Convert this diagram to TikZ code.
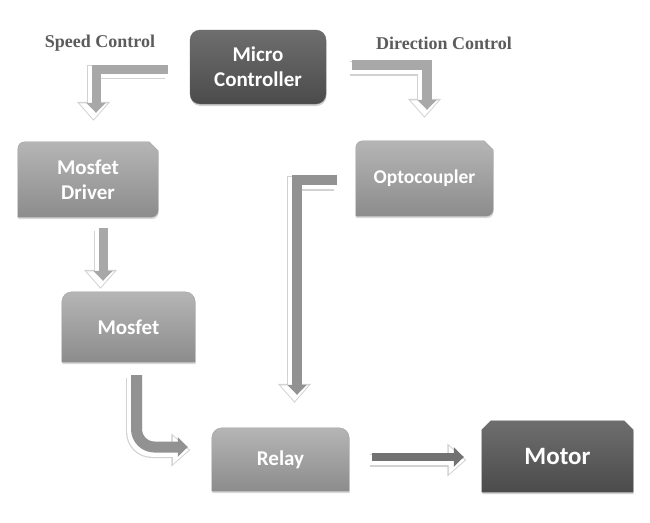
\documentclass[tikz,border=0pt]{standalone}
\usepackage{fontspec}
\newfontfamily\boxfont{Carlito}
\newfontfamily\labfont{Liberation Serif}
\usetikzlibrary{arrows.meta,shadows,calc}
\pgfdeclarelayer{bg}
\pgfdeclarelayer{paper}
\pgfsetlayers{paper,bg,main}
\definecolor{darkA}{HTML}{6E6E6E}
\definecolor{darkB}{HTML}{4B4B4B}
\definecolor{midA}{HTML}{B5B5B5}
\definecolor{midB}{HTML}{8C8C8C}
\definecolor{arrA}{HTML}{A8A8A8}
\definecolor{arrB}{HTML}{929292}
\definecolor{arrC}{HTML}{727272}
\definecolor{shadowg}{HTML}{D2D2D2}
\definecolor{labgray}{HTML}{5C5C5C}
\tikzset{
  boxtext/.style={inner sep=0pt, align=center, text=white, font=\boxfont\bfseries\fontsize{21}{25}\selectfont},
  lbl/.style={inner sep=0pt, text=labgray, font=\labfont\bfseries\fontsize{18}{20}\selectfont},
  midfill/.style={top color=midA, bottom color=midB, draw=black!40, line width=0.3pt,
    drop shadow={opacity=0.3, shadow xshift=0.5pt, shadow yshift=-2pt}},
  darkfill/.style={top color=darkA, bottom color=darkB, draw=black!60, line width=0.3pt,
    drop shadow={opacity=0.35, shadow xshift=0.5pt, shadow yshift=-2pt}},
}
% top corners rounded, bottom sharp
\newcommand\boxTopRound[2]{%
  \path[#2] (#1.south west) -- ($(#1.north west)+(0,10)$)
    .. controls ($(#1.north west)+(0,4.5)$) and ($(#1.north west)+(4.5,0)$) .. ($(#1.north west)+(10,0)$)
    -- ($(#1.north east)+(-10,0)$)
    .. controls ($(#1.north east)+(-4.5,0)$) and ($(#1.north east)+(0,4.5)$) .. ($(#1.north east)+(0,10)$)
    -- (#1.south east) -- cycle;}
% top-left rounded, top-right snipped, bottom-right rounded
\newcommand\boxSnip[2]{%
  \path[#2] (#1.south west) -- ($(#1.north west)+(0,7)$)
    .. controls ($(#1.north west)+(0,3)$) and ($(#1.north west)+(3,0)$) .. ($(#1.north west)+(7,0)$)
    -- ($(#1.north east)+(-9,0)$) -- ($(#1.north east)+(0,9)$)
    -- ($(#1.south east)+(0,-7)$)
    .. controls ($(#1.south east)+(0,-3)$) and ($(#1.south east)+(-3,0)$) .. ($(#1.south east)+(-7,0)$)
    -- cycle;}
% both top corners snipped
\newcommand\boxChamfer[2]{%
  \path[#2] (#1.south west) -- ($(#1.north west)+(0,9)$) -- ($(#1.north west)+(9,0)$)
    -- ($(#1.north east)+(-9,0)$) -- ($(#1.north east)+(0,9)$)
    -- (#1.south east) -- cycle;}
% block arrow with white reflected outline
\newcommand\blockarrow[3]{%
  \begin{scope}[transform canvas={shift={(-2.5pt,-3pt)}}]
    \draw[color=shadowg, line width=#2pt+5pt, shorten >=-5pt, -{Triangle[width=32pt,length=19pt]}] #3;
    \draw[color=white, line width=#2pt+2.6pt, shorten >=-3.5pt, -{Triangle[width=27pt,length=16pt]}] #3;
  \end{scope}
  \draw[color=#1, line width=#2pt, -{Triangle[width=19pt,length=10pt]}] #3;}
\begin{document}
\begin{tikzpicture}[x=1pt,y=-1pt]
\begin{pgfonlayer}{paper}
\fill[white] (0,0) rectangle (650,522);
\end{pgfonlayer}
\useasboundingbox (0,0) rectangle (650,522);

% nodes
\node[boxtext, minimum width=136pt, minimum height=74pt, rounded corners=10pt, darkfill] (mc) at (258,67) {Micro\\Controller};
\node[boxtext, minimum width=140pt, minimum height=75pt] (md) at (88,179.5) {Mosfet\\Driver};
\node[boxtext, minimum width=133pt, minimum height=70pt] (mosfet) at (128.5,327) {Mosfet};
\node[boxtext, minimum width=137pt, minimum height=75pt, font=\boxfont\bfseries\fontsize{19.5}{22}\selectfont] (opto) at (424.5,178.5) {Optocoupler};
\node[boxtext, minimum width=137pt, minimum height=63pt] (relay) at (280.5,459.5) {Relay};
\node[boxtext, minimum width=151pt, minimum height=71pt, font=\boxfont\bfseries\fontsize{25}{28}\selectfont] (motor) at (557.5,456.5) {Motor};

\node[lbl] (speedlbl) at (100,43) {Speed Control};
\node[lbl] (dirlbl) at (444,43) {Direction Control};

\begin{pgfonlayer}{bg}
  \boxSnip{md}{midfill}
  \boxTopRound{mosfet}{midfill}
  \boxSnip{opto}{midfill}
  \boxTopRound{relay}{midfill}
  \boxChamfer{motor}{darkfill}
\end{pgfonlayer}

% arrow end points
\coordinate (s1) at ($(mc.west)+(-22,2)$);
\coordinate (s2) at ($(md.north)+(8,-29)$);
\coordinate (d1) at ($(mc.east)+(26,-2)$);
\coordinate (d2) at ($(opto.north)+(2.5,-31)$);
\coordinate (m1) at ($(md.south)+(15,11)$);
\coordinate (m2) at ($(mosfet.north)+(-25.5,-11)$);
\coordinate (o1) at ($(opto.west)+(-19,1.5)$);
\coordinate (o2) at ($(relay.north)+(16.5,-33)$);
\coordinate (c1) at ($(mosfet.south)+(8,13)$);
\coordinate (c2) at ($(relay.west)+(-24,-12.5)$);
\coordinate (r1) at ($(relay.east)+(23,-2.5)$);
\coordinate (r2) at ($(motor.west)+(-18,0.5)$);

\blockarrow{arrA}{9}{(s1) -| (s2)}
\blockarrow{arrA}{10}{(d1) -| (d2)}
\blockarrow{arrA}{9}{(m1) -- (m2)}
\blockarrow{arrB}{10}{(o1) -| (o2)}
\blockarrow{arrB}{11}{[rounded corners=18pt] (c1) |- (c2)}
\blockarrow{arrC}{8}{(r1) -- (r2)}
\end{tikzpicture}
\end{document}
